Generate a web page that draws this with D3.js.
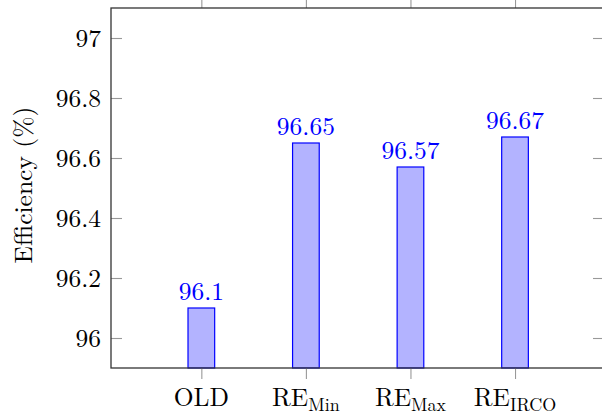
<!DOCTYPE html>
<html>
<head>
<meta charset="utf-8">
<script src="https://cdn.jsdelivr.net/npm/d3@7"></script>
<style>
  html, body { margin: 0; padding: 0; background: #fff; }
  svg { display: block; }
</style>
</head>
<body>
<svg id="chart" width="602" height="416"></svg>
<script>
// Efficiency per configuration
const categories = ["OLD", "RE_Min", "RE_Max", "RE_IRCO"];
const labelBase = ["OLD", "RE", "RE", "RE"];
const labelSub = ["", "Min", "Max", "IRCO"];
const efficiency = [96.1, 96.65, 96.57, 96.67];
const yTicks = [96, 96.2, 96.4, 96.6, 96.8, 97];
const yTickLabels = ["96", "96.2", "96.4", "96.6", "96.8", "97"];

const svg = d3.select("#chart");
const plot = { left: 111, right: 604, top: 8, bottom: 368 };
const FONT = "'Latin Modern Roman', 'CMU Serif', 'Liberation Serif', serif";

const x = d3.scaleLinear().domain([-0.864, 3.851]).range([plot.left, plot.right]);
const y = d3.scaleLinear().domain([95.9, 97.1]).range([plot.bottom, plot.top]);
const barW = 0.255;

const tickColor = "#999";
const fontSize = 25.5;

// Bars
svg.append("g").selectAll("rect")
  .data(efficiency)
  .join("rect")
  .attr("x", (d, i) => x(i - barW / 2))
  .attr("width", (d, i) => x(i + barW / 2) - x(i - barW / 2))
  .attr("y", d => y(d))
  .attr("height", d => y(95.9) - y(d))
  .attr("fill", "#b3b3ff")
  .attr("stroke", "#0000ff")
  .attr("stroke-width", 1.2);

// Value labels above bars
svg.append("g").selectAll("text")
  .data(efficiency)
  .join("text")
  .attr("x", (d, i) => x(i))
  .attr("y", d => y(d) - 8.5)
  .attr("text-anchor", "middle")
  .attr("fill", "#0000ff")
  .style("font-family", FONT)
  .style("font-size", fontSize + "px")
  .text(d => String(d));

// Left axis: inward ticks and labels
const yAxisL = svg.append("g")
  .attr("transform", `translate(${plot.left},0)`)
  .call(d3.axisLeft(y).tickValues(yTicks).tickSize(-11).tickPadding(10)
    .tickFormat((d, i) => yTickLabels[i]));
yAxisL.select(".domain").remove();
yAxisL.selectAll(".tick line").attr("stroke", tickColor).attr("stroke-width", 1.1);
yAxisL.selectAll(".tick text")
  .attr("fill", "#000")
  .style("font-family", FONT)
  .style("font-size", fontSize + "px")
  .attr("dy", "0.34em");

// Right axis: inward ticks only
const yAxisR = svg.append("g")
  .attr("transform", `translate(${plot.right},0)`)
  .call(d3.axisRight(y).tickValues(yTicks).tickSize(-11).tickFormat(""));
yAxisR.select(".domain").remove();
yAxisR.selectAll(".tick line").attr("stroke", tickColor).attr("stroke-width", 1.1);

// Bottom axis: outward ticks, category labels with subscripts
const xAxisB = svg.append("g")
  .attr("transform", `translate(0,${plot.bottom})`)
  .call(d3.axisBottom(x).tickValues(d3.range(categories.length)).tickSize(11).tickFormat(""));
xAxisB.select(".domain").remove();
xAxisB.selectAll(".tick line").attr("stroke", tickColor).attr("stroke-width", 1.1);

const catLabels = svg.append("g").selectAll("text")
  .data(categories)
  .join("text")
  .attr("x", (d, i) => x(i))
  .attr("y", 406)
  .attr("text-anchor", "middle")
  .attr("fill", "#000")
  .style("font-family", FONT)
  .style("font-size", fontSize + "px");
catLabels.append("tspan").text((d, i) => labelBase[i]);
catLabels.append("tspan")
  .style("font-size", "18px")
  .attr("dy", 5)
  .text((d, i) => labelSub[i]);

// Top axis: outward ticks
const xAxisT = svg.append("g")
  .attr("transform", `translate(0,${plot.top})`)
  .call(d3.axisTop(x).tickValues(d3.range(categories.length)).tickSize(11).tickFormat(""));
xAxisT.select(".domain").remove();
xAxisT.selectAll(".tick line").attr("stroke", tickColor).attr("stroke-width", 1.1);

// Frame
svg.append("rect")
  .attr("x", plot.left).attr("y", plot.top)
  .attr("width", plot.right - plot.left).attr("height", plot.bottom - plot.top)
  .attr("fill", "none")
  .attr("stroke", "#333")
  .attr("stroke-width", 1.3);

// Y axis title
svg.append("text")
  .attr("transform", `translate(32,185) rotate(-90)`)
  .attr("text-anchor", "middle")
  .attr("fill", "#000")
  .style("font-family", FONT)
  .style("font-size", fontSize + "px")
  .text("Efficiency (%)");
</script>
</body>
</html>
